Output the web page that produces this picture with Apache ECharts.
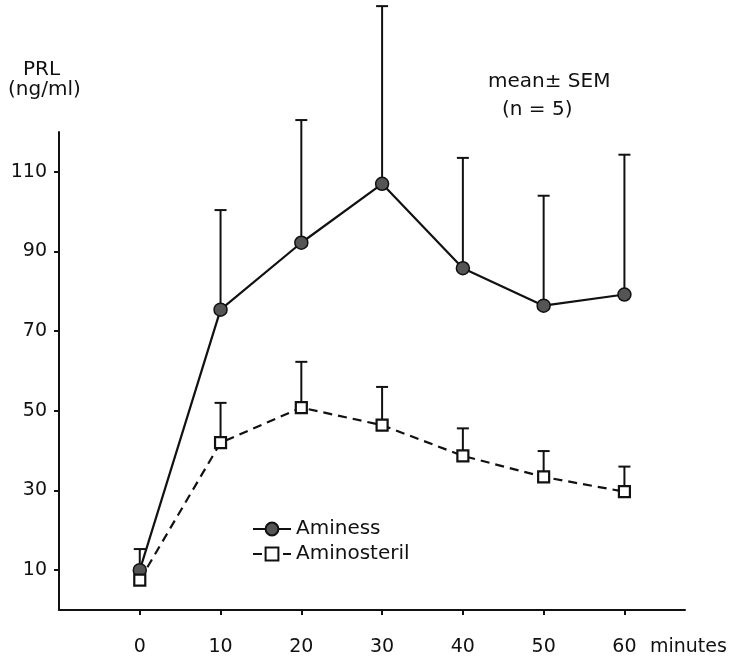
<!DOCTYPE html>
<html>
<head>
<meta charset="utf-8">
<script src="https://cdn.jsdelivr.net/npm/echarts@6/dist/echarts.min.js"></script>
<style>
  html, body { margin: 0; padding: 0; background: #fff; }
  #chart { width: 737px; height: 658px; }
</style>
</head>
<body>
<div id="chart"></div>
<script>
// time points (minutes)
var minutes = [0, 10, 20, 30, 40, 50, 60];
// PRL ng/ml, mean and SEM
var aminessMean = [10, 75.4, 92.2, 107, 85.8, 76.4, 79.2];
var aminessSem = [5.3, 25, 30.8, 44.6, 27.7, 27.6, 35.1];
var aminosterilMean = [7.5, 42, 50.8, 46.4, 38.7, 33.4, 29.7];
var aminosterilSem = [2, 10, 11.5, 9.6, 6.9, 6.5, 6.3];
// tick labels
var yTicks = [10, 30, 50, 70, 90, 110];
var xTicks = [0, 10, 20, 30, 40, 50, 60];

var font = 'DejaVu Sans';
var ink = '#111';

function pairs(mean) {
    return minutes.map(function(t, i) { return [t, mean[i]]; });
}
function bars(mean, sem) {
    return minutes.map(function(t, i) { return [t, mean[i], mean[i] + sem[i]]; });
}

// upward error bar with a small cap
function renderBar(params, api) {
    var p0 = api.coord([api.value(0), api.value(1)]);
    var p1 = api.coord([api.value(0), api.value(2)]);
    var st = { stroke: ink, lineWidth: 2 };
    return {
        type: 'group',
        children: [
            { type: 'line', shape: { x1: p0[0], y1: p0[1], x2: p1[0], y2: p1[1] }, style: st },
            { type: 'line', shape: { x1: p1[0] - 6, y1: p1[1], x2: p1[0] + 6, y2: p1[1] }, style: st }
        ]
    };
}

function label(text, x, y, size) {
    return {
        type: 'text', x: x, y: y,
        style: { text: text, fill: ink, font: size + 'px ' + font, verticalAlign: 'middle' }
    };
}

var chart = echarts.init(document.getElementById('chart'));
chart.setOption({
    backgroundColor: '#fff',
    animation: false,
    grid: { left: 59, right: 52, top: 132, bottom: 48 },
    xAxis: {
        type: 'value',
        min: -10,
        max: 67.5,
        interval: 10,
        splitLine: { show: false },
        axisLine: { onZero: false, lineStyle: { color: ink, width: 2 } },
        axisTick: { customValues: xTicks, length: 5, lineStyle: { color: ink, width: 2 } },
        axisLabel: { customValues: xTicks, margin: 28, color: ink, fontFamily: font, fontSize: 19 }
    },
    yAxis: {
        type: 'value',
        min: 0,
        max: 120,
        splitLine: { show: false },
        axisLine: { show: true, onZero: false, lineStyle: { color: ink, width: 2 } },
        axisTick: { show: true, customValues: yTicks, length: 5, lineStyle: { color: ink, width: 2 } },
        axisLabel: { customValues: yTicks, margin: 12, color: ink, fontFamily: font, fontSize: 19 }
    },
    legend: {
        data: ['Aminess', 'Aminosteril'],
        orient: 'vertical',
        left: 252,
        top: 519,
        padding: 0,
        itemWidth: 38,
        itemHeight: 16,
        itemGap: 5,
        textStyle: { color: ink, fontFamily: font, fontSize: 20 }
    },
    graphic: [
        label('PRL', 23, 70, 20),
        label('(ng/ml)', 8, 90, 20),
        label('mean\u00b1 SEM', 488, 82, 20),
        label('(n = 5)', 502, 110, 20),
        label('minutes', 650, 647, 19)
    ],
    series: [
        {
            type: 'custom',
            renderItem: renderBar,
            data: bars(aminessMean, aminessSem),
            encode: { x: 0, y: [1, 2] },
            z: 1
        },
        {
            type: 'custom',
            renderItem: renderBar,
            data: bars(aminosterilMean, aminosterilSem),
            encode: { x: 0, y: [1, 2] },
            z: 1
        },
        {
            name: 'Aminess',
            type: 'line',
            data: pairs(aminessMean),
            symbol: 'circle',
            symbolSize: 13,
            lineStyle: { color: ink, width: 2.2 },
            itemStyle: { color: '#555', borderColor: ink, borderWidth: 1.5 },
            z: 3
        },
        {
            name: 'Aminosteril',
            type: 'line',
            data: pairs(aminosterilMean),
            symbol: 'rect',
            symbolSize: 11,
            lineStyle: { color: ink, width: 2.2, type: [9, 6] },
            itemStyle: { color: '#fff', borderColor: ink, borderWidth: 2.2 },
            z: 3
        }
    ]
});
</script>
</body>
</html>
